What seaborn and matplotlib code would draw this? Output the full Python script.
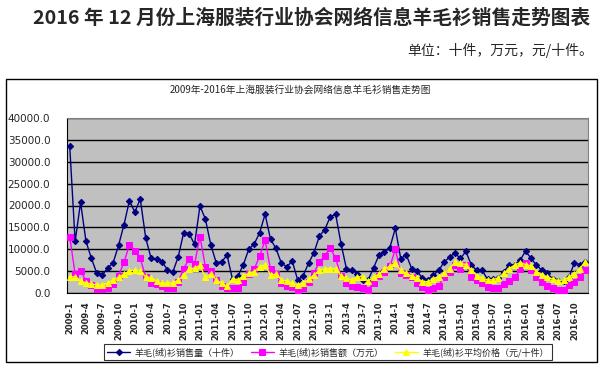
import numpy as np
import pandas as pd
import seaborn as sns
import matplotlib.pyplot as plt
from matplotlib.patches import Rectangle

# 2009-1 .. 2016-12, one value per month
sales_qty = [33600, 11800, 20700, 11800, 7900, 4500, 4100, 5700, 6900, 10900, 15600, 21100,
             18500, 21500, 12600, 7900, 7700, 7200, 5300, 4800, 8300, 13800, 13600, 11100,
             19900, 16900, 11000, 6900, 7200, 8600, 3100, 3900, 6500, 10000, 11200, 13800,
             18000, 12300, 10200, 6800, 6000, 7300, 3000, 3900, 6800, 9200, 13000, 14500,
             17400, 18000, 11200, 5500, 5300, 4400, 3000, 3000, 5800, 8700, 9300, 10400,
             14800, 7800, 8800, 5600, 5000, 3400, 3000, 4100, 5200, 7100, 8200, 9100,
             7900, 9500, 6400, 5200, 5200, 3100, 3100, 3400, 4900, 6400, 6400, 7500,
             9600, 7900, 6400, 5200, 4500, 3200, 2800, 2800, 3700, 6900, 6500, 7200]
sales_amt = [12900, 4300, 5100, 2800, 1800, 900, 900, 1200, 2000, 4000, 7000, 11000,
             9700, 7900, 3700, 2300, 2000, 1700, 1200, 1200, 2600, 5600, 7800, 6600,
             12900, 6000, 5100, 3000, 1700, 1200, 1200, 1200, 2600, 4300, 5500, 8400,
             12100, 5400, 4300, 2400, 1700, 1400, 600, 1100, 2600, 4600, 7100, 8500,
             10300, 7900, 3900, 2200, 1700, 1400, 1200, 800, 2400, 4000, 4900, 6100,
             10000, 4500, 4100, 3700, 2400, 1400, 800, 1100, 1700, 3700, 4900, 6400,
             5500, 6500, 3700, 3000, 2400, 1400, 1100, 1100, 2000, 2800, 3700, 5400,
             6800, 5300, 3700, 2600, 1700, 1100, 800, 800, 1800, 2600, 3700, 5300]
avg_price = [3700, 3700, 2700, 2300, 2100, 1800, 1800, 2300, 2900, 3600, 4300, 5100,
             5200, 5000, 3700, 3500, 2700, 2300, 2200, 2300, 2900, 4100, 5500, 5700,
             6300, 3600, 4400, 3000, 2200, 1500, 3300, 3000, 3900, 4500, 4900, 6000,
             6500, 4100, 4300, 3000, 2700, 2200, 1800, 2300, 3100, 4100, 5200, 5600,
             5600, 5600, 3900, 3400, 3000, 3700, 3700, 2700, 3700, 4300, 5500, 6100,
             6800, 5200, 4500, 3900, 3400, 2600, 2600, 3300, 3700, 4500, 5600, 7000,
             6800, 6500, 5200, 4000, 3400, 3000, 3000, 3500, 4500, 5600, 6400, 6900,
             6500, 6200, 4900, 4100, 3600, 3200, 2800, 3000, 3700, 4300, 5600, 7100]
tick_labels = ['2009-1', '2009-4', '2009-7', '2009-10', '2010-1', '2010-4', '2010-7', '2010-10',
               '2011-01', '2011-04', '2011-07', '2011-10', '2012-01', '2012-04', '2012-07', '2012-10',
               '2013-1', '2013-4', '2013-7', '2013-10', '2014-1', '2014-4', '2014-7', '2014-10',
               '2015-01', '2015-04', '2015-07', '2015-10', '2016-01', '2016-04', '2016-07', '2016-10']
series_names = ['羊毛(绒)衫销售量（十件）', '羊毛(绒)衫销售额（万元）', '羊毛(绒)衫平均价格（元/十件）']

sns.set_style('white')
plt.rcParams['font.family'] = ['Noto Sans CJK SC', 'DejaVu Sans']

W, H = 601, 373
fig = plt.figure(figsize=(W / 100, H / 100), dpi=100)

def fx(px):
    return px / W

def fy(py):
    return 1 - py / H

fig.text(fx(590), fy(18), '2016 年 12 月份上海服装行业协会网络信息羊毛衫销售走势图表',
         ha='right', va='center', fontsize=14.2, fontweight='bold')
fig.text(fx(593), fy(50), '单位：十件，万元，元/十件。', ha='right', va='center', fontsize=10)

# chart frame
fig.patches.append(Rectangle((fx(6), fy(362)), fx(591), (362 - 79) / H,
                             transform=fig.transFigure, fill=False, ec='black', lw=1))
fig.text(fx(300), fy(90), '2009年-2016年上海服装行业协会网络信息羊毛衫销售走势图',
         ha='center', va='center', fontsize=7)

ax = fig.add_axes([fx(67), fy(293), fx(521), (293 - 118) / H])
ax.set_facecolor('#C0C0C0')

df = pd.DataFrame({'idx': np.arange(len(sales_qty)), 'qty': sales_qty,
                   'amt': sales_amt, 'price': avg_price})

sns.lineplot(data=df, x='idx', y='qty', ax=ax, color='#000080', lw=1, marker='D',
             markersize=3.2, markeredgecolor='#000080', label=series_names[0], zorder=3)
sns.lineplot(data=df, x='idx', y='amt', ax=ax, color='#FF00FF', lw=1, marker='s',
             markersize=4, markeredgecolor='#FF00FF', label=series_names[1], zorder=4)
sns.lineplot(data=df, x='idx', y='price', ax=ax, color='#FFFF00', lw=1, marker='^',
             markersize=5, markeredgecolor='#FFFF00', label=series_names[2], zorder=5)

ax.set_xlim(-0.5, len(sales_qty) - 0.5)
ax.set_ylim(0, 40000)
ax.set_yticks(np.arange(0, 40001, 5000))
ax.set_yticklabels([f'{v:.1f}' for v in np.arange(0, 40001, 5000)], family='DejaVu Sans')
ax.grid(axis='y', color='black', lw=1)
ax.set_axisbelow(True)

ax.set_xticks(np.arange(0, len(sales_qty), 3))
ax.set_xticklabels(tick_labels, rotation=90, fontsize=6, fontweight='bold', family='DejaVu Sans')
ax.set_xticks(np.arange(-0.5, len(sales_qty), 1), minor=True)
ax.tick_params(axis='x', which='major', length=0, pad=6)
ax.tick_params(axis='x', which='minor', length=3, direction='in', color='black')
ax.tick_params(axis='y', length=0, labelsize=7.5, pad=12)
ax.set_xlabel('')
ax.set_ylabel('')

for side in ['top', 'right']:
    ax.spines[side].set_color('#808080')
for side in ['left', 'bottom']:
    ax.spines[side].set_color('black')

leg = ax.legend(loc='center', bbox_to_anchor=(fx(328), fy(352)), bbox_transform=fig.transFigure,
                ncol=3, fontsize=6.5, frameon=True, fancybox=False, edgecolor='black',
                borderpad=0.3, handlelength=2.6, columnspacing=1.2, handletextpad=0.5)
leg.get_frame().set_linewidth(0.8)

fig.savefig('out.png', dpi=100)
